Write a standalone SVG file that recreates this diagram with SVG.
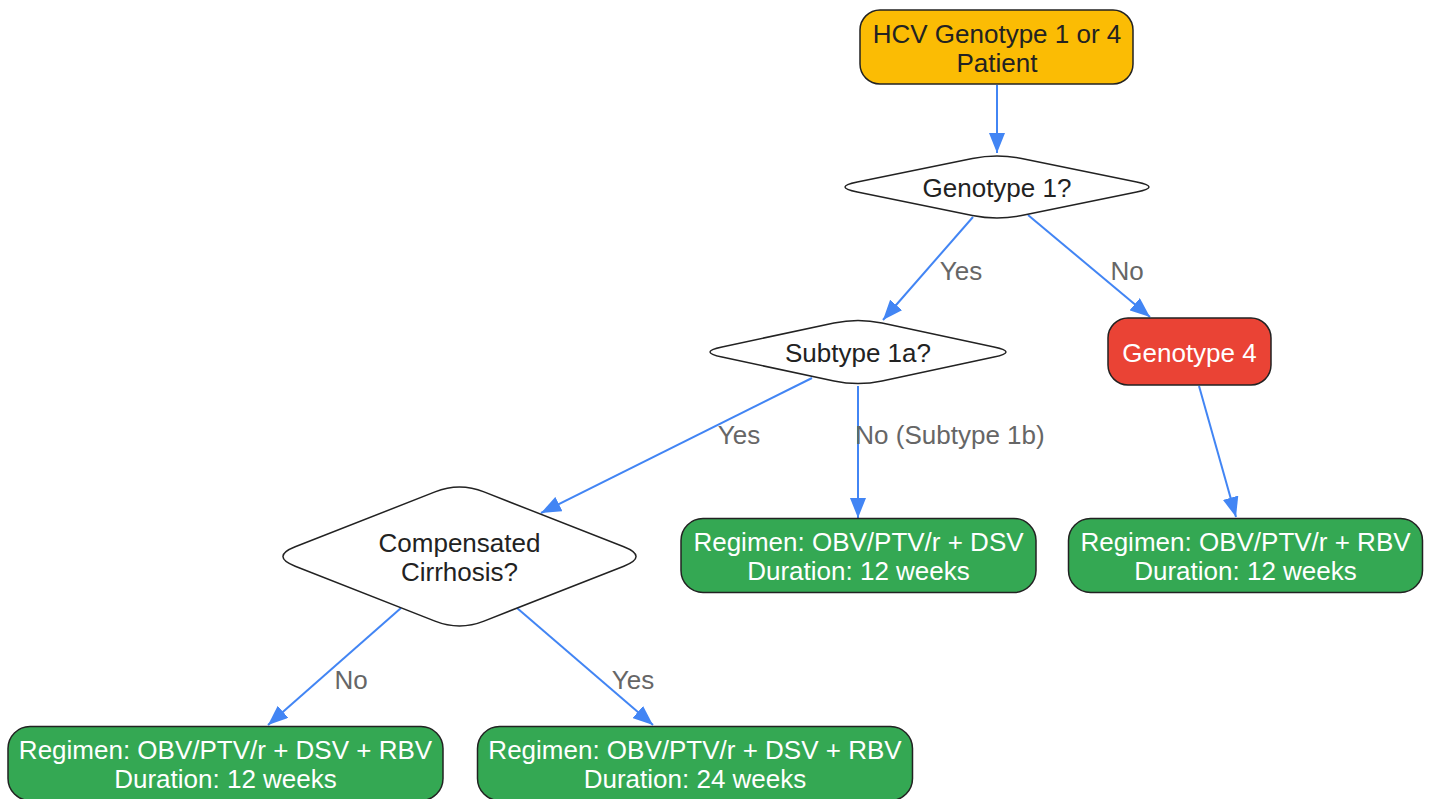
<svg xmlns="http://www.w3.org/2000/svg" width="1432" height="799" viewBox="0 0 1432 799">
<defs>
<style>
.t{font-family:"Liberation Sans",Arial,sans-serif;font-size:26px;text-anchor:middle}
.dk{fill:#222}
.wt{fill:#fff}
.lbl{font-family:"Liberation Sans",Arial,sans-serif;font-size:26px;text-anchor:middle;fill:#666}
.box{stroke:#222;stroke-width:1.5}
.e{stroke:#4285F4;stroke-width:2;fill:none;marker-end:url(#ah)}
</style>
<marker id="ah" markerUnits="userSpaceOnUse" markerWidth="20" markerHeight="16" refX="20" refY="8" orient="auto" viewBox="0 0 20 16">
<path d="M0,0 L20,8 L0,16 z" fill="#4285F4"/>
</marker>
</defs>
<rect width="1432" height="799" fill="#fff"/>
<g id="edges">
<line class="e" x1="997" y1="85" x2="997" y2="153"/>
<line class="e" x1="973" y1="217" x2="883" y2="320"/>
<line class="e" x1="1028" y1="215" x2="1150" y2="317"/>
<line class="e" x1="812" y1="378" x2="541" y2="513"/>
<line class="e" x1="858" y1="386" x2="858" y2="518"/>
<line class="e" x1="1199" y1="386" x2="1236" y2="517"/>
<line class="e" x1="401" y1="608" x2="268" y2="725"/>
<line class="e" x1="517" y1="608" x2="653" y2="725"/>
<text class="lbl" x="961" y="280">Yes</text>
<text class="lbl" x="1127" y="280">No</text>
<text class="lbl" x="739" y="444">Yes</text>
<text class="lbl" x="950" y="444">No (Subtype 1b)</text>
<text class="lbl" x="351" y="689">No</text>
<text class="lbl" x="633" y="689">Yes</text>
</g>
<g id="start">
<rect class="box" x="860" y="10" width="273" height="74" rx="20" fill="#FBBC04"/>
<text class="t dk" x="997" y="43">HCV Genotype 1 or 4</text>
<text class="t dk" x="997" y="72">Patient</text>
</g>
<g id="genotype1">
<path class="box" fill="#fff" d="M972.4,158.5 Q997,153.5 1021.6,158.5 L1136.7,182 Q1161.3,187 1136.7,192 L1021.6,215.5 Q997,220.5 972.4,215.5 L857.3,192 Q832.7,187 857.3,182 Z"/>
<text class="t dk" x="997" y="197">Genotype 1?</text>
</g>
<g id="subtype1a">
<path class="box" fill="#fff" d="M834,323.05 Q858,317.95 882,323.05 L994,346.9 Q1018,352 994,357.1 L882,380.95 Q858,386.05 834,380.95 L722,357.1 Q698,352 722,346.9 Z"/>
<text class="t dk" x="858" y="362">Subtype 1a?</text>
</g>
<g id="genotype4">
<rect class="box" x="1108" y="318" width="163" height="67" rx="20" fill="#EA4335"/>
<text class="t wt" x="1189.5" y="362">Genotype 4</text>
</g>
<g id="cirrhosis">
<path class="box" fill="#fff" d="M435,491.9 Q459.5,482.2 484,491.9 L623.8,546.8 Q648.3,556.5 623.8,566.2 L484,621.1 Q459.5,630.8 435,621.1 L295.2,566.2 Q270.7,556.5 295.2,546.8 Z"/>
<text class="t dk" x="459.5" y="552">Compensated</text>
<text class="t dk" x="459.5" y="581">Cirrhosis?</text>
</g>
<g id="regimen1b">
<rect class="box" x="681" y="518.5" width="355" height="74" rx="22" fill="#34A853"/>
<text class="t wt" x="858.5" y="551">Regimen: OBV/PTV/r + DSV</text>
<text class="t wt" x="858.5" y="580">Duration: 12 weeks</text>
</g>
<g id="regimen4">
<rect class="box" x="1068.5" y="518.5" width="354" height="74" rx="22" fill="#34A853"/>
<text class="t wt" x="1245.5" y="551">Regimen: OBV/PTV/r + RBV</text>
<text class="t wt" x="1245.5" y="580">Duration: 12 weeks</text>
</g>
<g id="regimenNoCirr">
<rect class="box" x="8" y="726.5" width="435" height="74" rx="22" fill="#34A853"/>
<text class="t wt" x="225.5" y="759">Regimen: OBV/PTV/r + DSV + RBV</text>
<text class="t wt" x="225.5" y="788">Duration: 12 weeks</text>
</g>
<g id="regimenCirr">
<rect class="box" x="477.5" y="726.5" width="435" height="74" rx="22" fill="#34A853"/>
<text class="t wt" x="695" y="759">Regimen: OBV/PTV/r + DSV + RBV</text>
<text class="t wt" x="695" y="788">Duration: 24 weeks</text>
</g>
</svg>
